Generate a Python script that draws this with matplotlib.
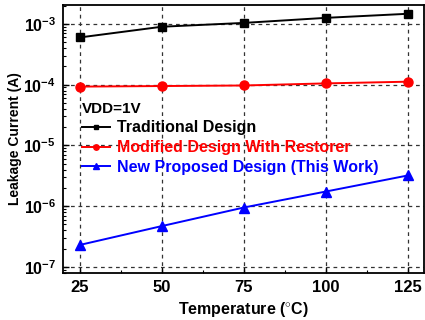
import numpy as np
import matplotlib
matplotlib.use('Agg')
import matplotlib.pyplot as plt
from matplotlib.ticker import LogLocator, MultipleLocator, NullFormatter

plt.rcParams['font.family'] = ['Liberation Sans', 'DejaVu Sans']
plt.rcParams['font.weight'] = 'bold'
plt.rcParams['mathtext.fontset'] = 'custom'
plt.rcParams['mathtext.rm'] = 'Liberation Sans:bold'
plt.rcParams['mathtext.bf'] = 'Liberation Sans:bold'

temps = [25, 50, 75, 100, 125]
traditional = [6.0e-4, 9.0e-4, 1.04e-3, 1.26e-3, 1.47e-3]
restorer = [9.3e-5, 9.5e-5, 9.7e-5, 1.05e-4, 1.12e-4]
proposed = [2.3e-7, 4.7e-7, 9.5e-7, 1.74e-6, 3.2e-6]
labels = ['Traditional Design', 'Modified Design With Restorer',
          'New Proposed Design (This Work)']
yticks = [1e-7, 1e-6, 1e-5, 1e-4, 1e-3]
ytick_labels = ['$\\mathbf{10^{-7}}$', '$\\mathbf{10^{-6}}$', '$\\mathbf{10^{-5}}$',
                '$\\mathbf{10^{-4}}$', '$\\mathbf{10^{-3}}$']

fig = plt.figure(figsize=(4.25, 3.2), dpi=100)
ax = fig.add_axes([0.148, 0.147, 0.85, 0.837])

ax.plot(temps, traditional, color='black', marker='s', markersize=6, lw=1.4, label=labels[0])
ax.plot(temps, restorer, color='red', marker='o', markersize=6.5, lw=1.4, label=labels[1])
ax.plot(temps, proposed, color='blue', marker='^', markersize=7, lw=1.4, label=labels[2])

ax.set_yscale('log')
ax.set_xlim(19.8, 130)
ax.set_ylim(10**-7.1, 10**-2.69)
ax.set_xticks(temps)
ax.xaxis.set_minor_locator(MultipleLocator(12.5))
ax.set_yticks(yticks)
ax.set_yticklabels(ytick_labels)
ax.yaxis.set_minor_locator(LogLocator(base=10, subs=np.arange(2, 10)))
ax.yaxis.set_minor_formatter(NullFormatter())
ax.tick_params(which='both', direction='in')
ax.tick_params(axis='x', labelsize=12, pad=5)
ax.tick_params(axis='y', labelsize=11.5, pad=5)
ax.tick_params(which='major', length=4, width=1)
ax.tick_params(which='minor', length=2, width=0.8)
ax.grid(True, which='major', color='#333333', linestyle=(0, (3, 3)), linewidth=0.9)

for s in ax.spines.values():
    s.set_linewidth(1.3)

ax.set_xlabel('Temperature ($^{\\circ}$C)', fontsize=11.5, fontweight='bold', labelpad=4)
ax.set_ylabel('Leakage Current (A)', fontsize=10, fontweight='bold')
ax.yaxis.set_label_coords(-0.113, 0.5)

leg = ax.legend(loc='upper left', bbox_to_anchor=(0.052, 0.64), frameon=False,
                title='VDD=1V', alignment='left', fontsize=11.5, handlelength=1.75,
                handletextpad=0.45, labelspacing=0.3, borderpad=0, borderaxespad=0,
                markerscale=0.6)
leg.get_title().set_fontweight('bold')
leg.get_title().set_fontsize(11)
for t, c in zip(leg.get_texts(), ['black', 'red', 'blue']):
    t.set_color(c)
    t.set_fontweight('bold')

fig.savefig('out.png', dpi=100)
